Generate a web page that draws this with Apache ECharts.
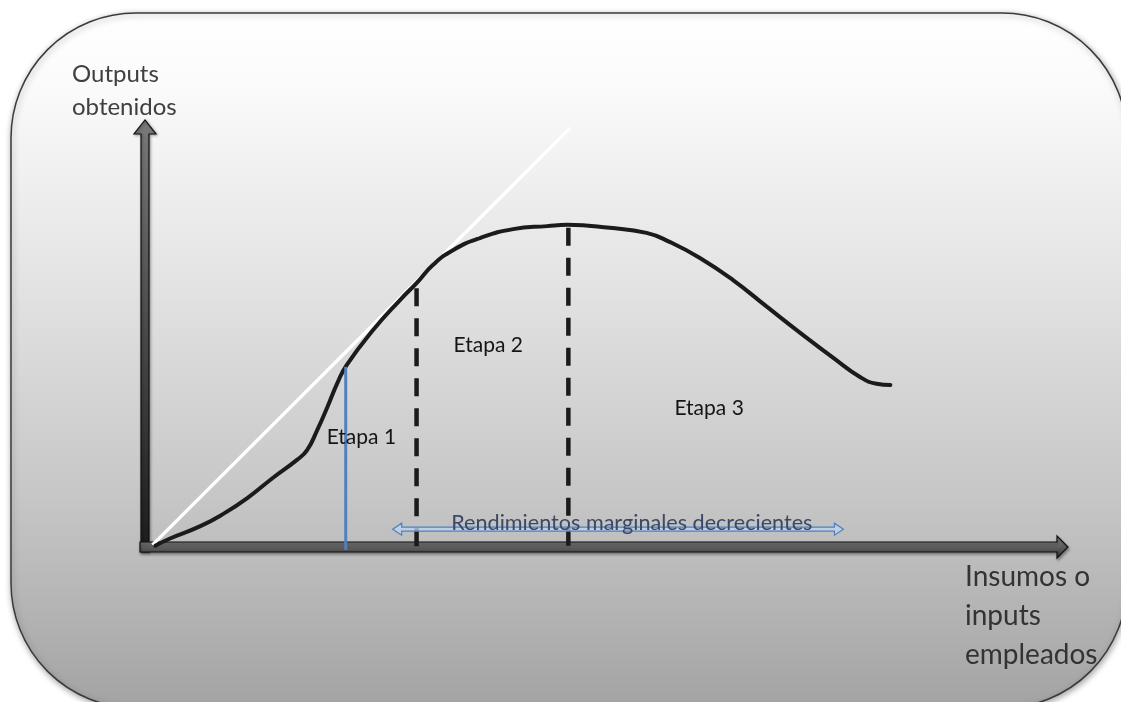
<!DOCTYPE html>
<html><head><meta charset="utf-8">
<script src="https://cdn.jsdelivr.net/npm/echarts/dist/echarts.min.js"></script>
<style>html,body{margin:0;padding:0;background:#fff;} #c{width:1121px;height:702px;}</style>
</head><body><div id="c"></div>
<script>
// ---- data (x: inputs 0..100, y: outputs 0..100) ----
const curveX = [0.9, 2.5, 5.8, 8.3, 10.9, 13.7, 16.3, 17.4, 18.5, 19.6, 20.7, 21.7, 24.6, 27.5, 29.3, 31.1, 33.3, 36.2, 39.8, 43.5, 45.7, 50.3, 54.3, 56.8, 60.1, 63.7, 67.4, 71.0, 74.6, 77.5, 79.3, 80.8];
const curveY = [0.3, 2.0, 4.9, 7.8, 11.5, 16.3, 20.5, 22.8, 27.5, 32.9, 38.6, 42.8, 51.1, 58.1, 62.1, 66.4, 69.9, 72.7, 74.8, 75.5, 75.8, 75.1, 73.9, 71.8, 68.0, 62.8, 56.5, 50.4, 44.5, 40.0, 38.4, 38.1];
const tangentX = [0.6, 46.0];
const tangentY = [0.5, 98.6];
const stageBoundaryX = [29.3, 45.8];
const stageBoundaryTop = [60.9, 75.1];
const blueLineX = 21.6;
const blueLineTop = 42.4;
const arrowRangeX = [26.7, 75.7];
const arrowY = 4.2;
const arrowText = 'Rendimientos marginales decrecientes';
const arrowTextPos = [52.7, 5.6];
const stageLabels = ['Etapa 1', 'Etapa 2', 'Etapa 3'];
const stageLabelX = [23.3, 37.1, 61.1];
const stageLabelY = [25.9, 47.5, 32.7];
const yAxisTitle = ['Outputs', 'obtenidos'];
const xAxisTitle = ['Insumos o', 'inputs', 'empleados'];

const chart = echarts.init(document.getElementById('c'), null, {renderer: 'canvas'});
const FONT = 'Lato, "Open Sans", sans-serif';

const series = [
  {
    type: 'line', name: 'tangente', symbol: 'none', clip: false, z: 3,
    data: tangentX.map((x, i) => [x, tangentY[i]]),
    lineStyle: {color: '#ffffff', width: 3.5}
  },
  {
    type: 'line', name: 'producción', symbol: 'none', clip: false, z: 4,
    smooth: 0.5,
    data: curveX.map((x, i) => [x, curveY[i]]),
    lineStyle: {color: '#1b1b1b', width: 4, cap: 'round', join: 'round'}
  },
  {
    type: 'line', name: 'límite 1', symbol: 'none', clip: false, z: 5,
    data: [[blueLineX, blueLineTop], [blueLineX, -0.7]],
    lineStyle: {color: '#4f81bd', width: 3}
  }
];
stageBoundaryX.forEach((x, i) => {
  series.push({
    type: 'line', name: 'límite ' + (i + 2), symbol: 'none', clip: false, z: 3,
    data: [[x, stageBoundaryTop[i]], [x, 0]],
    lineStyle: {color: '#1b1b1b', width: 4.5, type: [18, 12]}
  });
});

chart.setOption({
  animation: false,
  backgroundColor: '#ffffff',
  grid: {left: 147, right: 54, top: 122, bottom: 155, containLabel: false},
  xAxis: {type: 'value', min: 0, max: 100, show: true, axisLine: {show: false}, axisTick: {show: false}, axisLabel: {show: false}, splitLine: {show: false}},
  yAxis: {type: 'value', min: 0, max: 100, show: true, axisLine: {show: false}, axisTick: {show: false}, axisLabel: {show: false}, splitLine: {show: false}},
  series: series
});

function px(p) { return chart.convertToPixel({gridIndex: 0}, p); }

const pOrigin = px([0, 0]);
const pTop = px([0, 100]);
const pEnd = px([100, 0]);
const ox = pOrigin[0], oy = pOrigin[1];
const vx = ox - 2, vh = 4;
const hy = oy, hh = 5;

const graphics = [];
graphics.push({
  type: 'rect', z: -10, silent: true,
  shape: {x: 11, y: 13, width: 1116, height: 695, r: 125},
  style: {
    fill: new echarts.graphic.LinearGradient(0, 0, 0, 1, [
      {offset: 0, color: '#ffffff'},
      {offset: 0.1, color: '#fbfbfb'},
      {offset: 0.4, color: '#e2e2e2'},
      {offset: 0.7, color: '#c6c6c6'},
      {offset: 1, color: '#a3a3a3'}
    ]),
    stroke: '#3a3a3a', lineWidth: 1.5,
    shadowBlur: 6, shadowColor: 'rgba(0,0,0,0.35)', shadowOffsetX: 1, shadowOffsetY: 2
  }
});
graphics.push({
  type: 'polygon', z: 1, silent: true,
  shape: {points: [
    [vx - vh, oy + 5], [vx - vh, pTop[1] + 12], [vx - 11, pTop[1] + 12], [vx, pTop[1] - 2],
    [vx + 11, pTop[1] + 12], [vx + vh, pTop[1] + 12], [vx + vh, oy + 5]
  ]},
  style: {
    fill: new echarts.graphic.LinearGradient(0, 0, 0, 1, [
      {offset: 0, color: '#7a7a7a'}, {offset: 0.5, color: '#4a4a4a'}, {offset: 1, color: '#1c1c1c'}
    ]),
    stroke: '#111', lineWidth: 1.2,
    shadowBlur: 3, shadowColor: 'rgba(0,0,0,0.35)', shadowOffsetX: 1, shadowOffsetY: 1
  }
});
graphics.push({
  type: 'polygon', z: 1, silent: true,
  shape: {points: [
    [ox - 7, hy - hh], [pEnd[0] - 10, hy - hh], [pEnd[0] - 10, hy - 11], [pEnd[0] + 1, hy],
    [pEnd[0] - 10, hy + 11], [pEnd[0] - 10, hy + hh], [ox - 7, hy + hh]
  ]},
  style: {
    fill: new echarts.graphic.LinearGradient(0, 0, 0, 1, [
      {offset: 0, color: '#8e8e8e'}, {offset: 0.5, color: '#5e5e5e'}, {offset: 1, color: '#333333'}
    ]),
    stroke: '#111', lineWidth: 1.2,
    shadowBlur: 3, shadowColor: 'rgba(0,0,0,0.35)', shadowOffsetX: 1, shadowOffsetY: 2
  }
});
const a0 = px([arrowRangeX[0], arrowY]);
const a1 = px([arrowRangeX[1], arrowY]);
const ay = a0[1], hl = 9, hw = 6, sw = 2;
graphics.push({
  type: 'polygon', z: 8, silent: true,
  shape: {points: [
    [a0[0], ay], [a0[0] + hl, ay - hw], [a0[0] + hl, ay - sw], [a1[0] - hl, ay - sw],
    [a1[0] - hl, ay - hw], [a1[0], ay], [a1[0] - hl, ay + hw], [a1[0] - hl, ay + sw],
    [a0[0] + hl, ay + sw], [a0[0] + hl, ay + hw]
  ]},
  style: {fill: 'rgba(190,210,238,0.75)', stroke: '#4f81bd', lineWidth: 1.2}
});
const tp = px(arrowTextPos);
graphics.push({
  type: 'text', z: 9, silent: true, x: tp[0], y: tp[1],
  style: {text: arrowText, fill: '#3b4866', fontSize: 21.6, fontFamily: FONT, align: 'center', verticalAlign: 'middle'}
});
stageLabels.forEach((t, i) => {
  const p = px([stageLabelX[i], stageLabelY[i]]);
  graphics.push({
    type: 'text', z: 9, silent: true, x: p[0], y: p[1],
    style: {text: t, fill: '#151515', fontSize: 21, fontFamily: FONT, align: 'center', verticalAlign: 'middle'}
  });
});
graphics.push({
  type: 'text', z: 9, silent: true, x: 72, y: 58,
  style: {text: yAxisTitle.join('\n'), fill: '#404040', fontSize: 24, lineHeight: 33, fontFamily: FONT, align: 'left', verticalAlign: 'top'}
});
graphics.push({
  type: 'text', z: 9, silent: true, x: 965, y: 557,
  style: {text: xAxisTitle.join('\n'), fill: '#333333', fontSize: 28, lineHeight: 39, fontFamily: FONT, align: 'left', verticalAlign: 'top'}
});

chart.setOption({graphic: graphics});
</script>
</body></html>
